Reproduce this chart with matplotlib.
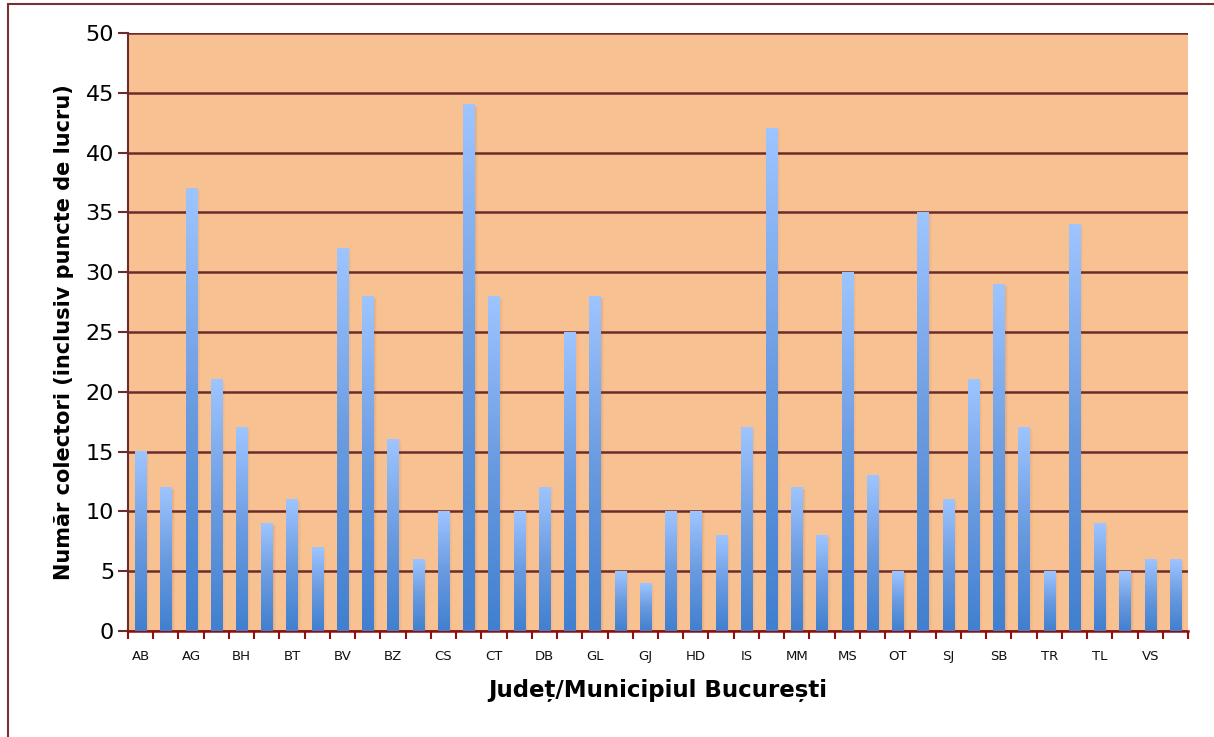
import numpy as np
import matplotlib.pyplot as plt
from matplotlib.colors import LinearSegmentedColormap
from matplotlib.patches import Rectangle

# county codes, in chart order
judete = ['AB', 'AR', 'AG', 'BC', 'BH', 'BN', 'BT', 'BR', 'BV', 'B',
          'BZ', 'CL', 'CS', 'CJ', 'CT', 'CV', 'DB', 'DJ', 'GL', 'GR',
          'GJ', 'HR', 'HD', 'IL', 'IS', 'IF', 'MM', 'MH', 'MS', 'NT',
          'OT', 'PH', 'SJ', 'SM', 'SB', 'SV', 'TR', 'TM', 'TL', 'VL',
          'VS', 'VN']
colectori = [15, 12, 37, 21, 17, 9, 11, 7, 32, 28,
             16, 6, 10, 44, 28, 10, 12, 25, 28, 5,
             4, 10, 10, 8, 17, 42, 12, 8, 30, 13,
             5, 35, 11, 21, 29, 17, 5, 34, 9, 5,
             6, 6]

bg = '#F8C192'
maroon = '#6E2B2B'
grad = LinearSegmentedColormap.from_list('bars', ['#4180D0', '#6A9BE0', '#9DC4FF'])

fig = plt.figure(figsize=(12.14, 7.37), dpi=100)
ax = fig.add_axes([128 / 1214, 1 - 631 / 737, 1060 / 1214, 598 / 737])
ax.set_facecolor(bg)

x = np.arange(len(judete))
bars = ax.bar(x, colectori, width=0.44, color='none', zorder=3)

# gradient fill + soft shadow for each bar
g = np.repeat(np.linspace(0, 1, 64).reshape(-1, 1), 2, axis=1)
for b in bars:
    x0, w, h = b.get_x(), b.get_width(), b.get_height()
    for k, a in enumerate([0.10, 0.07, 0.04]):
        ax.add_patch(Rectangle((x0 + w + 0.04 * k, 0), 0.05, h - 0.15, color='#7a5a40',
                               alpha=a, lw=0, zorder=2))
    ax.imshow(g, cmap=grad, extent=[x0, x0 + w, 0, h], origin='lower',
              aspect='auto', zorder=3, interpolation='bicubic')

ax.set_xlim(-0.5, len(judete) - 0.5)
ax.set_ylim(0, 50)
ax.set_yticks(range(0, 51, 5))
ax.yaxis.grid(True, color=maroon, lw=1.8, zorder=1)
ax.set_axisbelow(True)

ax.set_xticks(x[::2])
ax.set_xticklabels(judete[::2], fontsize=9.5, color='#111111')
ax.set_xticks(np.arange(-0.5, len(judete), 1), minor=True)
ax.tick_params(axis='x', which='major', length=0, pad=14)
ax.tick_params(axis='x', which='minor', length=6, width=1.5, color='#8B1010', direction='out')
ax.tick_params(axis='y', length=7, width=1.5, color=maroon, labelsize=16, pad=3)

for s in ['top', 'right']:
    ax.spines[s].set_visible(False)
ax.spines['left'].set_color(maroon)
ax.spines['left'].set_linewidth(1.5)
ax.spines['bottom'].set_color('#8B1010')
ax.spines['bottom'].set_linewidth(1.8)

ax.set_ylabel('Număr colectori (inclusiv puncte de lucru)', fontsize=15,
              fontweight='bold', labelpad=8)
ax.set_xlabel('Județ/Municipiul București', fontsize=16.5, fontweight='bold', labelpad=11)

# outer chart border
fig.patches.append(Rectangle((8 / 1214, -0.01), 1.0, 1 - 4 / 737 + 0.01,
                             transform=fig.transFigure, fill=False,
                             edgecolor='#7A3030', lw=1.5))

fig.savefig('out.png', dpi=100)
